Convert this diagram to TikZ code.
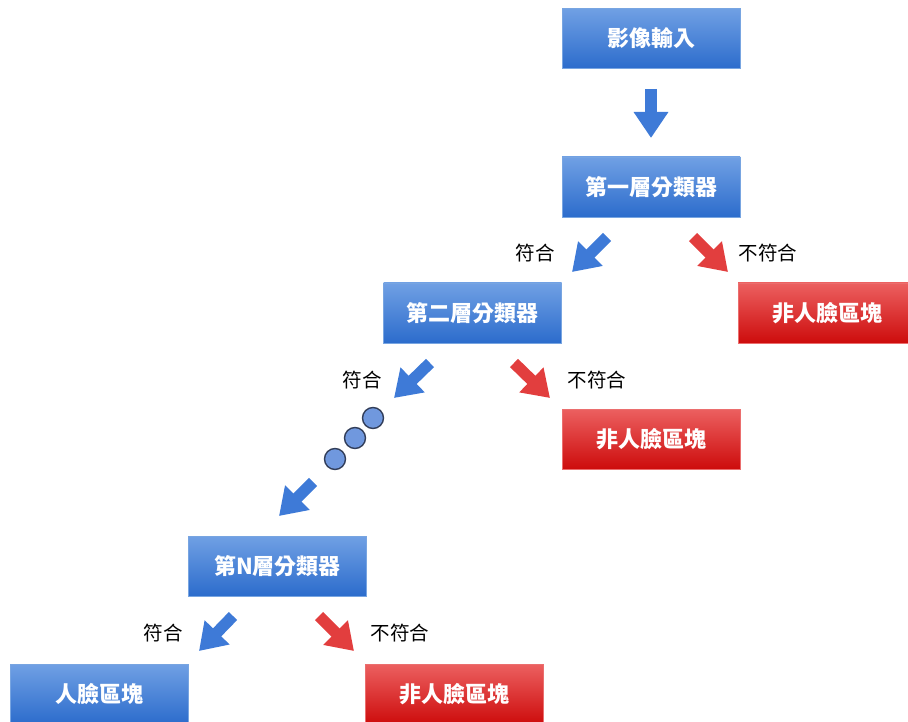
\documentclass[tikz,border=0pt]{standalone}
\usepackage{fontspec}
\setmainfont{Noto Sans CJK TC}
\usetikzlibrary{arrows.meta}
\definecolor{btop}{RGB}{112,160,228}
\definecolor{bbot}{RGB}{44,108,204}
\definecolor{bline}{RGB}{120,165,225}
\definecolor{rtop}{RGB}{236,96,96}
\definecolor{rbot}{RGB}{205,12,12}
\definecolor{rline}{RGB}{235,110,110}
\definecolor{barrow}{RGB}{62,122,215}
\definecolor{rarrow}{RGB}{226,62,62}
\definecolor{dotfill}{RGB}{112,152,222}
\definecolor{dotline}{RGB}{50,62,90}
\tikzset{
  boxbase/.style={rectangle, minimum width=178pt, minimum height=60pt, inner sep=0pt,
    font=\fontsize{22}{26}\selectfont\bfseries, text=white},
  bluebox/.style={boxbase, top color=btop, bottom color=bbot, draw=bline, line width=0.8pt},
  redbox/.style={boxbase, top color=rtop, bottom color=rbot, draw=rline, line width=0.8pt},
  blockblue/.style={draw=barrow, line width=11.5pt, -{Triangle[length=26pt,width=33pt]}},
  blockred/.style={draw=rarrow, line width=11.5pt, -{Triangle[length=26pt,width=33pt]}},
  lbl/.style={font=\fontsize{19.5}{23}\selectfont, text=black, inner sep=0pt},
  dotc/.style={circle, minimum size=21pt, inner sep=0pt, fill=dotfill, draw=dotline, line width=1.4pt}
}
\begin{document}
\begin{tikzpicture}[x=1pt,y=-1pt]
\useasboundingbox (0,0) rectangle (908,722);
\clip (0,0) rectangle (908,722);
% boxes
\node[bluebox] (in) at (651,38.5) {影像輸入};
\node[bluebox] (c1) at (651,187) {第一層分類器};
\node[bluebox] (c2) at (472.5,313) {第二層分類器};
\node[redbox]  (nf1) at (827,313) {非人臉區塊};
\node[redbox]  (nf2) at (651,439) {非人臉區塊};
\node[bluebox] (cN) at (277.5,566) {第N層分類器};
\node[bluebox] (face) at (99,694) {人臉區塊};
\node[redbox]  (nf3) at (454,694) {非人臉區塊};
% arrow end points
\coordinate (a0s) at (651,89);   \coordinate (a0e) at (651,138);
\coordinate (a1s) at (607,237);  \coordinate (a1e) at (572,272);
\coordinate (r1s) at (693,237);  \coordinate (r1e) at (728,272);
\coordinate (a2s) at (430,363);  \coordinate (a2e) at (394,398);
\coordinate (r2s) at (514,363);  \coordinate (r2e) at (550,398);
\coordinate (a3s) at (313,482);  \coordinate (a3e) at (279,516);
\coordinate (aNs) at (233,616);  \coordinate (aNe) at (199,651);
\coordinate (rNs) at (319,616);  \coordinate (rNe) at (354,651);
% arrows
\draw[blockblue] (a0s) -- (a0e);
\draw[blockblue] (a1s) -- (a1e);
\draw[blockred]  (r1s) -- (r1e);
\draw[blockblue] (a2s) -- (a2e);
\draw[blockred]  (r2s) -- (r2e);
\draw[blockblue] (a3s) -- (a3e);
\draw[blockblue] (aNs) -- (aNe);
\draw[blockred]  (rNs) -- (rNe);
% dots
\node[dotc] (d1) at (373,418) {};
\node[dotc] (d2) at (355,438) {};
\node[dotc] (d3) at (335,459) {};
% labels
\node[lbl] (l1) at (535,253) {符合};
\node[lbl] (l2) at (768,253) {不符合};
\node[lbl] (l3) at (362,380) {符合};
\node[lbl] (l4) at (597,380) {不符合};
\node[lbl] (l5) at (163,633) {符合};
\node[lbl] (l6) at (400,633) {不符合};
\end{tikzpicture}
\end{document}
